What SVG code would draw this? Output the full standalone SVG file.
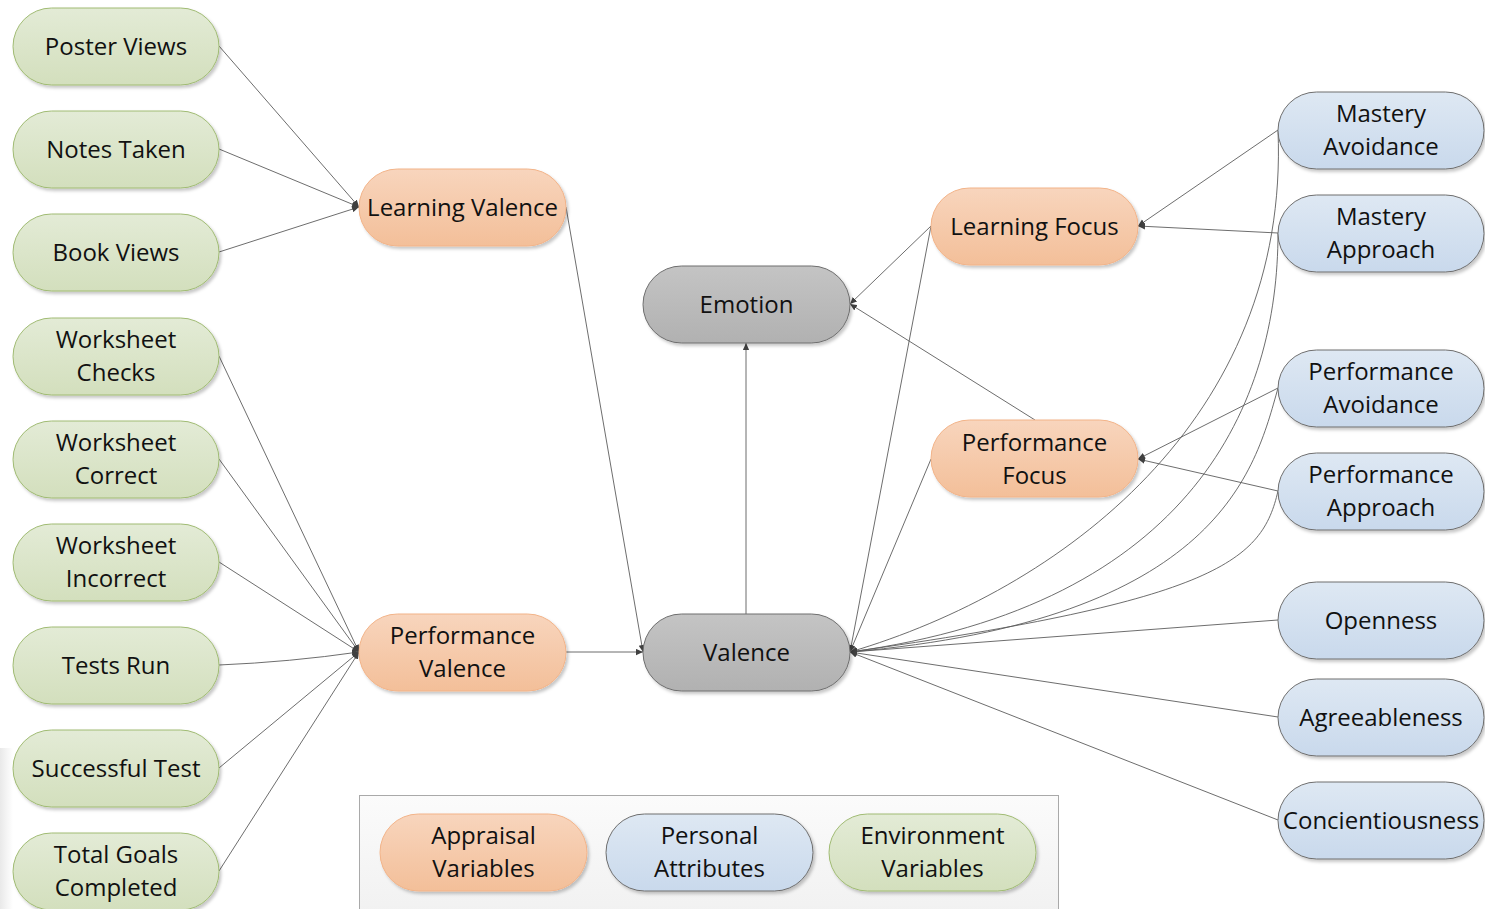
<svg xmlns="http://www.w3.org/2000/svg" width="1485" height="909" viewBox="0 0 1485 909">
  <defs>
    <linearGradient id="gGreen" x1="0" y1="0" x2="0" y2="1">
      <stop offset="0" stop-color="#e3ebd6"/>
      <stop offset="1" stop-color="#d3dfbd"/>
    </linearGradient>
    <linearGradient id="gOrange" x1="0" y1="0" x2="0" y2="1">
      <stop offset="0" stop-color="#f8d5bd"/>
      <stop offset="1" stop-color="#f3bf99"/>
    </linearGradient>
    <linearGradient id="gBlue" x1="0" y1="0" x2="0" y2="1">
      <stop offset="0" stop-color="#dee8f3"/>
      <stop offset="1" stop-color="#c9d9ec"/>
    </linearGradient>
    <linearGradient id="gGray" x1="0" y1="0" x2="0" y2="1">
      <stop offset="0" stop-color="#c4c4c4"/>
      <stop offset="1" stop-color="#b1b1b1"/>
    </linearGradient>
    <linearGradient id="gLegend" x1="0" y1="0" x2="0" y2="1">
      <stop offset="0" stop-color="#fbfbfb"/>
      <stop offset="1" stop-color="#f1f1f1"/>
    </linearGradient>
    <linearGradient id="gEdge" x1="0" y1="0" x2="1" y2="0">
      <stop offset="0" stop-color="#e9e9e9"/>
      <stop offset="1" stop-color="#ffffff"/>
    </linearGradient>
    <filter id="shadow" x="-10%" y="-20%" width="130%" height="150%">
      <feDropShadow dx="2" dy="2.5" stdDeviation="1.6" flood-color="#000" flood-opacity="0.22"/>
    </filter>
    <marker id="arrow" viewBox="0 0 10 10" refX="10" refY="5" markerWidth="7" markerHeight="7" markerUnits="userSpaceOnUse" orient="auto">
      <path d="M0,0.5 L10,5 L0,9.5 z" fill="#404040"/>
    </marker>
  </defs>
  <style>
    .node rect { stroke-width: 1; filter: url(#shadow); }
    .env rect { fill: url(#gGreen); stroke: #a0bb73; }
    .app rect { fill: url(#gOrange); stroke: #f2b388; }
    .per rect { fill: url(#gBlue); stroke: #6e6e6e; }
    .emo rect { fill: url(#gGray); stroke: #6e6e6e; }
    .node text { font-family: "Open Sans", "Noto Sans", sans-serif; font-size: 24px; fill: #111111; text-anchor: middle; }
    #connectors path { fill: none; stroke: #5c5c5c; stroke-width: 0.9; }
    #connectors .a { marker-end: url(#arrow); }
  </style>

  <rect width="1485" height="909" fill="#ffffff"/>
  <rect x="0" y="748" width="13" height="161" fill="url(#gEdge)"/>

  <!-- legend frame -->
  <g id="legend-frame">
    <rect x="359.5" y="795.5" width="699" height="120" fill="url(#gLegend)" stroke="#a9a9a9" stroke-width="1"/>
  </g>

  <!-- connectors -->
  <g id="connectors">
    <!-- environment variables into the two valence appraisals -->
    <path class="a" d="M219,46 L359,207"/>
    <path class="a" d="M219,149 L359,207"/>
    <path class="a" d="M219,252 L359,207"/>
    <path class="a" d="M219,356 L359,652"/>
    <path class="a" d="M219,459 L359,652"/>
    <path class="a" d="M219,562 L359,652"/>
    <path class="a" d="M219,665 Q290,662 359,652"/>
    <path class="a" d="M219,768 L359,652"/>
    <path class="a" d="M219,871 L359,652"/>
    <!-- valence appraisals into Valence -->
    <path class="a" d="M566,207 L643,652"/>
    <path class="a" d="M566,652 L643,652"/>
    <!-- Valence into Emotion -->
    <path class="a" d="M746,614 L746,343"/>
    <!-- focus appraisals into Emotion and Valence -->
    <path class="a" d="M931,226 L850,304"/>
    <path class="a" d="M1035,420 L850,304"/>
    <path class="a" d="M931,226 L850,652"/>
    <path class="a" d="M931,459 L850,652"/>
    <!-- goal orientations into the focus appraisals -->
    <path class="a" d="M1278,130 L1138,226"/>
    <path class="a" d="M1278,233 L1138,226"/>
    <path class="a" d="M1278,388 L1138,459"/>
    <path class="a" d="M1278,491 L1138,459"/>
    <!-- personal attributes into Valence -->
    <path class="a" d="M1278,130 C1290,420 1060,590 850,652"/>
    <path class="a" d="M1278,233 C1278,400 1195,605 850,652"/>
    <path class="a" d="M1278,388 C1255,470 1220,620 850,652"/>
    <path class="a" d="M1278,491 C1262,560 1220,600 850,652"/>
    <path class="a" d="M1278,620 L850,652"/>
    <path class="a" d="M1278,717 L850,652"/>
    <path class="a" d="M1278,820 L850,652"/>
  </g>

  <!-- environment variables -->
  <g id="poster-views" class="node env"><rect x="13" y="8" width="206" height="77" rx="38.5"/><text x="116" y="54.5">Poster Views</text></g>
  <g id="notes-taken" class="node env"><rect x="13" y="111" width="206" height="77" rx="38.5"/><text x="116" y="157.5">Notes Taken</text></g>
  <g id="book-views" class="node env"><rect x="13" y="214" width="206" height="77" rx="38.5"/><text x="116" y="260.5">Book Views</text></g>
  <g id="worksheet-checks" class="node env"><rect x="13" y="318" width="206" height="77" rx="38.5"/><text x="116" y="348"><tspan x="116">Worksheet</tspan><tspan x="116" dy="33.3">Checks</tspan></text></g>
  <g id="worksheet-correct" class="node env"><rect x="13" y="421" width="206" height="77" rx="38.5"/><text x="116" y="451"><tspan x="116">Worksheet</tspan><tspan x="116" dy="33.3">Correct</tspan></text></g>
  <g id="worksheet-incorrect" class="node env"><rect x="13" y="524" width="206" height="77" rx="38.5"/><text x="116" y="554"><tspan x="116">Worksheet</tspan><tspan x="116" dy="33.3">Incorrect</tspan></text></g>
  <g id="tests-run" class="node env"><rect x="13" y="627" width="206" height="77" rx="38.5"/><text x="116" y="673.5">Tests Run</text></g>
  <g id="successful-test" class="node env"><rect x="13" y="730" width="206" height="77" rx="38.5"/><text x="116" y="776.5">Successful Test</text></g>
  <g id="total-goals-completed" class="node env"><rect x="13" y="833" width="206" height="77" rx="38.5"/><text x="116" y="863"><tspan x="116">Total Goals</tspan><tspan x="116" dy="33.3">Completed</tspan></text></g>

  <!-- appraisal variables -->
  <g id="learning-valence" class="node app"><rect x="359" y="169" width="207" height="77" rx="38.5"/><text x="462.5" y="215.5">Learning Valence</text></g>
  <g id="performance-valence" class="node app"><rect x="359" y="614" width="207" height="77" rx="38.5"/><text x="462.5" y="644"><tspan x="462.5">Performance</tspan><tspan x="462.5" dy="33.3">Valence</tspan></text></g>
  <g id="learning-focus" class="node app"><rect x="931" y="188" width="207" height="77" rx="38.5"/><text x="1034.5" y="234.5">Learning Focus</text></g>
  <g id="performance-focus" class="node app"><rect x="931" y="420" width="207" height="77" rx="38.5"/><text x="1034.5" y="450.5"><tspan x="1034.5">Performance</tspan><tspan x="1034.5" dy="33.3">Focus</tspan></text></g>

  <!-- emotion model -->
  <g id="emotion" class="node emo"><rect x="643" y="266" width="207" height="77" rx="38.5"/><text x="746.5" y="312.5">Emotion</text></g>
  <g id="valence" class="node emo"><rect x="643" y="614" width="207" height="77" rx="38.5"/><text x="746.5" y="660.5">Valence</text></g>

  <!-- personal attributes -->
  <g id="mastery-avoidance" class="node per"><rect x="1278" y="92" width="206" height="77" rx="38.5"/><text x="1381" y="122"><tspan x="1381">Mastery</tspan><tspan x="1381" dy="33.3">Avoidance</tspan></text></g>
  <g id="mastery-approach" class="node per"><rect x="1278" y="195" width="206" height="77" rx="38.5"/><text x="1381" y="225"><tspan x="1381">Mastery</tspan><tspan x="1381" dy="33.3">Approach</tspan></text></g>
  <g id="performance-avoidance" class="node per"><rect x="1278" y="350" width="206" height="77" rx="38.5"/><text x="1381" y="380"><tspan x="1381">Performance</tspan><tspan x="1381" dy="33.3">Avoidance</tspan></text></g>
  <g id="performance-approach" class="node per"><rect x="1278" y="453" width="206" height="77" rx="38.5"/><text x="1381" y="483"><tspan x="1381">Performance</tspan><tspan x="1381" dy="33.3">Approach</tspan></text></g>
  <g id="openness" class="node per"><rect x="1278" y="582" width="206" height="77" rx="38.5"/><text x="1381" y="628.5">Openness</text></g>
  <g id="agreeableness" class="node per"><rect x="1278" y="679" width="206" height="77" rx="38.5"/><text x="1381" y="725.5">Agreeableness</text></g>
  <g id="concientiousness" class="node per"><rect x="1278" y="782" width="206" height="77" rx="38.5"/><text x="1381" y="828.5">Concientiousness</text></g>

  <!-- legend entries -->
  <g id="legend-appraisal" class="node app"><rect x="380" y="814" width="207" height="77" rx="38.5"/><text x="483.5" y="844"><tspan x="483.5">Appraisal</tspan><tspan x="483.5" dy="33.3">Variables</tspan></text></g>
  <g id="legend-personal" class="node per"><rect x="606" y="814" width="207" height="77" rx="38.5"/><text x="709.5" y="844"><tspan x="709.5">Personal</tspan><tspan x="709.5" dy="33.3">Attributes</tspan></text></g>
  <g id="legend-environment" class="node env"><rect x="829" y="814" width="207" height="77" rx="38.5"/><text x="932.5" y="844"><tspan x="932.5">Environment</tspan><tspan x="932.5" dy="33.3">Variables</tspan></text></g>
</svg>
